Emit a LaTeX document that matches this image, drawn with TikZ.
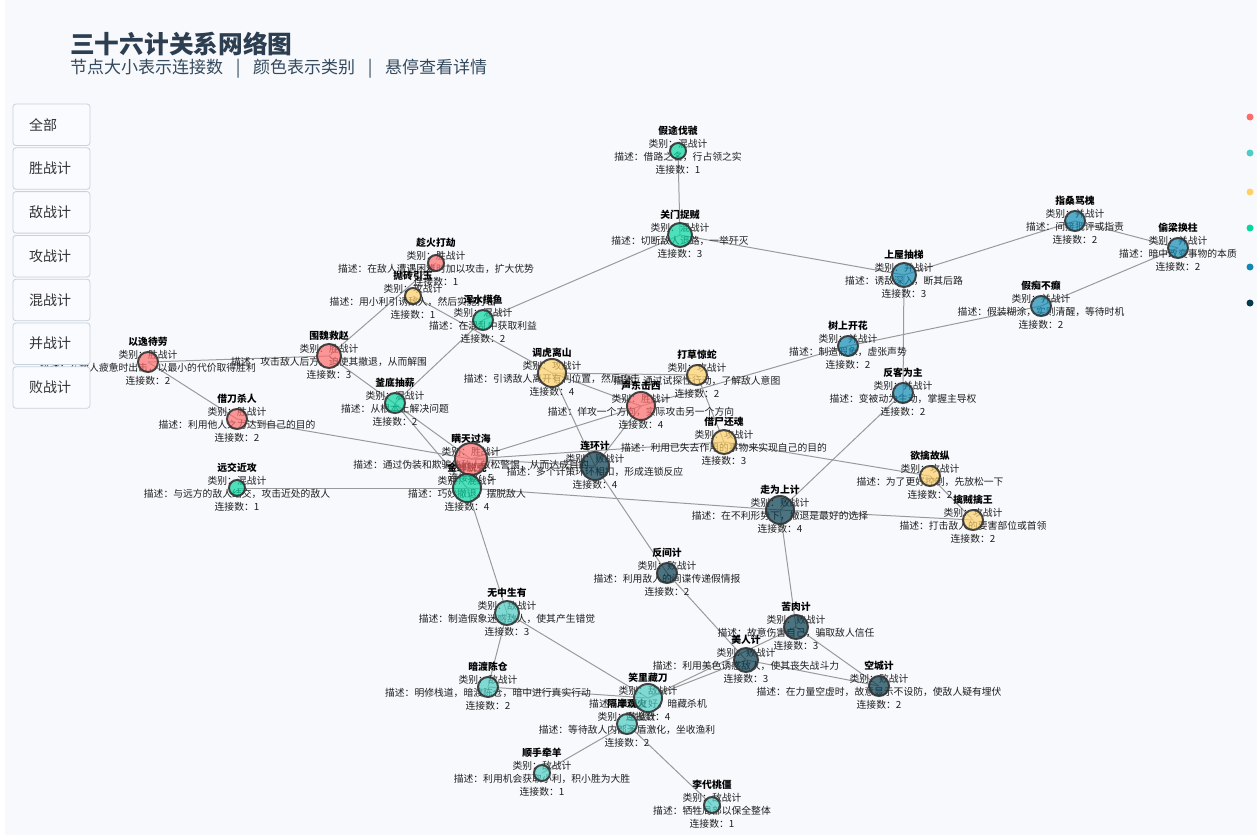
\documentclass[tikz,border=0pt]{standalone}
\usepackage{fontspec}
\setmainfont{Noto Sans CJK SC}
\definecolor{sheng}{HTML}{FF6B6B}
\definecolor{di}{HTML}{4ECDC4}
\definecolor{gong}{HTML}{FFD166}
\definecolor{hun}{HTML}{06D6A0}
\definecolor{bing}{HTML}{118AB2}
\definecolor{bai}{HTML}{073B4C}
\definecolor{bgc}{HTML}{F7F9FC}
\definecolor{edgec}{HTML}{9A9A9A}
\definecolor{titlec}{HTML}{2C3E50}
\definecolor{subc}{HTML}{34495E}
\definecolor{btnborder}{HTML}{C9D1DC}
\definecolor{btnfill}{HTML}{F9FBFE}
\definecolor{nodeline}{HTML}{333333}
\tikzset{
  edge/.style={draw=edgec, line width=1pt},
  lbl/.style={inner sep=0pt, text=black!88, font=\fontsize{9.8}{11}\selectfont},
  lblname/.style={inner sep=0pt, text=black, font=\fontsize{9.8}{11}\selectfont\bfseries},
  gnode/.style={circle, inner sep=0pt, draw=nodeline, line width=2pt, fill opacity=0.7, draw opacity=0.9},
  btn/.style={draw=btnborder, fill=btnfill, rounded corners=3pt, line width=0.8pt},
  btntext/.style={anchor=west, inner sep=0pt, font=\fontsize{14}{16}\selectfont, text=black!80},
  dot/.style={circle, inner sep=0pt, minimum size=7pt}
}
\newcommand\nodedata{%
\jN{jt}{678}{151}{假途伐虢}{hun}{混战计}{借路之名，行占领之实}{1}%
\jN{gm}{680}{235}{关门捉贼}{hun}{混战计}{切断敌人退路，一举歼灭}{3}%
\jN{ch}{436}{263}{趁火打劫}{sheng}{胜战计}{在敌人遭遇困难时加以攻击，扩大优势}{1}%
\jN{pz}{413}{296}{抛砖引玉}{gong}{攻战计}{用小利引诱敌人，然后实施打击}{1}%
\jN{hs}{483}{320}{浑水摸鱼}{hun}{混战计}{在混乱中获取利益}{2}%
\jN{ww}{329}{356}{围魏救赵}{sheng}{胜战计}{攻击敌人后方，迫使其撤退，从而解围}{3}%
\jN{yy}{148}{362}{以逸待劳}{sheng}{胜战计}{在敌人疲惫时出击，以最小的代价取得胜利}{2}%
\jN{jd}{237}{419}{借刀杀人}{sheng}{胜战计}{利用他人之力达到自己的目的}{2}%
\jN{fd}{395}{403}{釜底抽薪}{hun}{混战计}{从根本上解决问题}{2}%
\jN{dh}{552}{373}{调虎离山}{gong}{攻战计}{引诱敌人离开有利位置，然后攻击}{4}%
\jN{dc}{697}{375}{打草惊蛇}{gong}{攻战计}{通过试探性行动，了解敌人意图}{2}%
\jN{sd}{641}{406}{声东击西}{sheng}{胜战计}{佯攻一个方向，实际攻击另一个方向}{4}%
\jN{js}{724}{442}{借尸还魂}{gong}{攻战计}{利用已失去作用的事物来实现自己的目的}{3}%
\jN{lh}{595}{466}{连环计}{bai}{败战计}{多个计策环环相扣，形成连锁反应}{4}%
\jN{mt}{471}{459}{瞒天过海}{sheng}{胜战计}{通过伪装和欺骗使敌人放松警惕，从而达成目的}{5}%
\jN{jc}{467}{488}{金蝉脱壳}{hun}{混战计}{巧妙撤退，摆脱敌人}{4}%
\jN{yj}{237}{488}{远交近攻}{hun}{混战计}{与远方的敌人结交，攻击近处的敌人}{1}%
\jN{sk}{848}{346}{树上开花}{bing}{并战计}{制造假象，虚张声势}{2}%
\jN{sw}{904}{275}{上屋抽梯}{bing}{并战计}{诱敌深入，断其后路}{3}%
\jN{zs}{1075}{221}{指桑骂槐}{bing}{并战计}{间接批评或指责}{2}%
\jN{tl}{1178}{248}{偷梁换柱}{bing}{并战计}{暗中改变事物的本质}{2}%
\jN{jz}{1041}{306}{假痴不癫}{bing}{并战计}{假装糊涂，实则清醒，等待时机}{2}%
\jN{fk}{903}{393}{反客为主}{bing}{并战计}{变被动为主动，掌握主导权}{2}%
\jN{yq}{930}{476}{欲擒故纵}{gong}{攻战计}{为了更好控制，先放松一下}{2}%
\jN{qz}{973}{520}{擒贼擒王}{gong}{攻战计}{打击敌人的要害部位或首领}{2}%
\jN{zw}{780}{510}{走为上计}{bai}{败战计}{在不利形势下，撤退是最好的选择}{4}%
\jN{fj}{667}{573}{反间计}{bai}{败战计}{利用敌人的间谍传递假情报}{2}%
\jN{kr}{796}{627}{苦肉计}{bai}{败战计}{故意伤害自己，骗取敌人信任}{3}%
\jN{mr}{746}{660}{美人计}{bai}{败战计}{利用美色诱惑敌人，使其丧失战斗力}{3}%
\jN{kc}{879}{686}{空城计}{bai}{败战计}{在力量空虚时，故意显示不设防，使敌人疑有埋伏}{2}%
\jN{wz}{507}{613}{无中生有}{di}{敌战计}{制造假象迷惑敌人，使其产生错觉}{3}%
\jN{ad}{488}{687}{暗渡陈仓}{di}{敌战计}{明修栈道，暗渡陈仓，暗中进行真实行动}{2}%
\jN{xl}{648}{698}{笑里藏刀}{di}{敌战计}{表面友好，暗藏杀机}{4}%
\jN{ga}{627}{724}{隔岸观火}{di}{敌战计}{等待敌人内部矛盾激化，坐收渔利}{2}%
\jN{ss}{542}{773}{顺手牵羊}{di}{敌战计}{利用机会获取小利，积小胜为大胜}{1}%
\jN{ld}{712}{805}{李代桃僵}{di}{敌战计}{牺牲局部以保全整体}{1}%
}
\begin{document}
\begin{tikzpicture}[x=1pt, y=-1pt]
\useasboundingbox (0,0) rectangle (1257,835);
\fill[bgc] (0,0) rectangle (1257,835);
\fill[white] (0,0) rectangle (5,835);
% title
\node[anchor=west, inner sep=0pt, text=titlec, font=\fontsize{24.7}{28}\selectfont\bfseries] (title) at (70,44) {三十六计关系网络图};
\node[anchor=west, inner sep=0pt, text=subc, font=\fontsize{17}{20}\selectfont] (subtitle) at (70,69) {节点大小表示连接数\makebox[30pt]{|}颜色表示类别\makebox[30pt]{|}悬停查看详情};
% coordinates
\def\jN#1#2#3#4#5#6#7#8{\coordinate (#1) at (#2,#3);}
\nodedata
% edges
\draw[edge] (jt) -- (gm);
\draw[edge] (gm) -- (hs);
\draw[edge] (gm) -- (sw);
\draw[edge] (sw) -- (zs);
\draw[edge] (zs) -- (tl);
\draw[edge] (tl) -- (jz);
\draw[edge] (jz) -- (sk);
\draw[edge] (sw) -- (fk);
\draw[edge] (fk) -- (zw);
\draw[edge] (sk) -- (sd);
\draw[edge] (dh) -- (dc);
\draw[edge] (dc) -- (js);
\draw[edge] (js) -- (yq);
\draw[edge] (yq) -- (qz);
\draw[edge] (qz) -- (zw);
\draw[edge] (jc) -- (zw);
\draw[edge] (zw) -- (kr);
\draw[edge] (lh) -- (fj);
\draw[edge] (fj) -- (mr);
\draw[edge] (kr) -- (kc);
\draw[edge] (mr) -- (kc);
\draw[edge] (kr) -- (xl);
\draw[edge] (mr) -- (xl);
\draw[edge] (xl) -- (ad);
\draw[edge] (wz) -- (ad);
\draw[edge] (wz) -- (xl);
\draw[edge] (wz) -- (jc);
\draw[edge] (ga) -- (ss);
\draw[edge] (ga) -- (ld);
\draw[edge] (yy) -- (ww);
\draw[edge] (yy) -- (jd);
\draw[edge] (jd) -- (mt);
\draw[edge] (ww) -- (ch);
\draw[edge] (pz) -- (dh);
\draw[edge] (hs) -- (fd);
\draw[edge] (ww) -- (mt);
\draw[edge] (fd) -- (jc);
\draw[edge] (dh) -- (sd);
\draw[edge] (dh) -- (lh);
\draw[edge] (sd) -- (lh);
\draw[edge] (sd) -- (mt);
\draw[edge] (yj) -- (jc);
\draw[edge] (mt) -- (js);
\draw[edge] (mt) -- (lh);
% labels
\def\jN#1#2#3#4#5#6#7#8{%
  \node[lblname] (t#1) at (#2,#3-20) {#4};
  \node[lbl] (k#1) at (#2,#3-7) {类别：#6};
  \node[lbl] (d#1) at (#2,#3+6) {描述：#7};
  \node[lbl] (s#1) at (#2,#3+19) {连接数：#8};
}
\nodedata
% circles
\def\jN#1#2#3#4#5#6#7#8{%
  \node[gnode, fill=#5, minimum size={(12+4*#8)*1pt}] (c#1) at (#1) {};
}
\nodedata
% buttons
\foreach \lab [count=\i from 0] in {全部,胜战计,敌战计,攻战计,混战计,并战计,败战计} {
  \draw[btn] (13,104+43.8*\i) rectangle (90,145.5+43.8*\i);
  \node[btntext] (b\i) at (29,124.7+43.8*\i) {\lab};
}
% legend dots
\node[dot, fill=sheng] (l1) at (1250,117) {};
\node[dot, fill=di] (l2) at (1250,153) {};
\node[dot, fill=gong] (l3) at (1250,192) {};
\node[dot, fill=hun] (l4) at (1250,228) {};
\node[dot, fill=bing] (l5) at (1250,267) {};
\node[dot, fill=bai] (l6) at (1250,303) {};
\end{tikzpicture}
\end{document}
